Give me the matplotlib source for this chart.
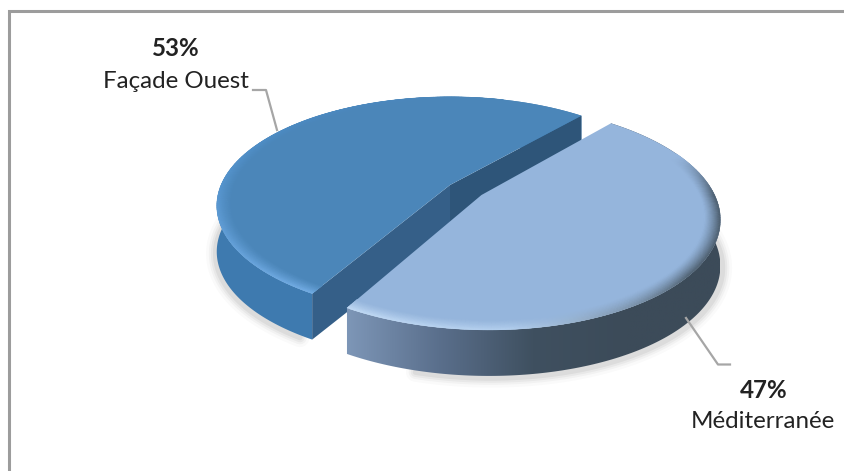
import numpy as np
import matplotlib
matplotlib.use("Agg")
import matplotlib.pyplot as plt
from matplotlib.collections import PolyCollection
from matplotlib.colors import to_rgb, LinearSegmentedColormap
from matplotlib.patches import Polygon

# ---- data ----
categories = ["Façade Ouest", "Méditerranée"]
shares = [53, 47]
pct_labels = [f"{v}%" for v in shares]

# ---- projection (tilted disc in perspective) ----
AX, AY, A, B, K = 450.0, 185.0, 229.0, 105.0, 0.19
START = 49.0
DEPTH = 46.0
EXPLODE = (0.135, -0.0935)


def project(X, Y):
    w = 1 + K * np.asarray(Y)
    return AX + A * np.asarray(X) / w, AY - B * np.asarray(Y) / w


def rim(t0, t1, off=(0, 0), r=1.0, n=200):
    t = np.radians(np.linspace(t0, t1, n))
    return project(off[0] + r * np.cos(t), off[1] + r * np.sin(t))


def lerp(c1, c2, t):
    c1, c2 = np.array(to_rgb(c1)), np.array(to_rgb(c2))
    return c1 + (c2 - c1) * np.clip(t, 0, 1)


def edge_interp(theta, stops):
    xs = [s[0] for s in stops]
    rgb = np.array([to_rgb(s[1]) for s in stops])
    return np.array([np.interp(theta, xs, rgb[:, i]) for i in range(3)])


fig = plt.figure(figsize=(8.45, 4.71), dpi=100, facecolor="white")
ax = fig.add_axes([0, 0, 1, 1])
ax.set_xlim(0, 845)
ax.set_ylim(471, 0)
ax.axis("off")

ax.plot([9, 9, 845], [471, 10.8, 10.8], color="#9c9c9c", lw=2.2, zorder=1,
        solid_joinstyle="miter")

span = [v / sum(shares) * 360 for v in shares]
d0, d1 = START, START + span[0]
l0, l1 = d1, d1 + span[1]


def bevel(t0, t1, off, top, stops, zorder, width=0.065):
    ts = np.linspace(t0, t1, 160)
    steps = 14
    rs = np.linspace(1 - width, 1.0, steps + 1)
    polys, cols = [], []
    for a, b in zip(ts[:-1], ts[1:]):
        edge = edge_interp((a + b) / 2, stops)
        for i, (r0, r1) in enumerate(zip(rs[:-1], rs[1:])):
            ta, tb = np.radians(a), np.radians(b)
            px = [off[0] + r0 * np.cos(ta), off[0] + r1 * np.cos(ta),
                  off[0] + r1 * np.cos(tb), off[0] + r0 * np.cos(tb)]
            py = [off[1] + r0 * np.sin(ta), off[1] + r1 * np.sin(ta),
                  off[1] + r1 * np.sin(tb), off[1] + r0 * np.sin(tb)]
            x, y = project(px, py)
            polys.append(np.column_stack([x, y]))
            f = ((i + 0.5) / steps) ** 1.3
            cols.append(lerp(top, edge, f))
    ax.add_collection(PolyCollection(polys, facecolors=cols, edgecolors=cols,
                                     linewidths=0.3, zorder=zorder))


# soft shadow under the bottom edge
for lw, al in zip([14, 10, 7, 4], [0.02, 0.03, 0.04, 0.05]):
    x, y = rim(d0 + 60, d1 - 3, (0, 0))
    ax.plot(x - 1, y + DEPTH + 2, color="black", lw=lw, alpha=al, zorder=2, solid_capstyle="round")
    x, y = rim(l0 + 15, l1 - 40, EXPLODE)
    ax.plot(x + 2, y + DEPTH + 2, color="black", lw=lw, alpha=al, zorder=2, solid_capstyle="round")

# ---- Façade Ouest ----
TOP_D = "#4b86b9"
x, y = rim(d0, d1)
ax.fill(np.r_[x, x[::-1]], np.r_[y, (y + DEPTH)[::-1]], color="#3e7aaf", lw=0, zorder=3)
cx, cy = project(0.0, 0.0)
face1 = [(cx, cy), (x[0], y[0]), (x[0], y[0] + DEPTH * 0.55), (cx, cy + DEPTH)]
face2 = [(cx, cy), (x[-1], y[-1]), (x[-1], y[-1] + DEPTH), (cx, cy + DEPTH)]
ax.add_patch(Polygon(face1, color="#2e5579", lw=0, zorder=4))
ax.add_patch(Polygon(face2, color="#355f88", lw=0, zorder=4))
ax.fill(np.r_[cx, x], np.r_[cy, y], color=TOP_D, lw=0, zorder=5)
bevel(d0 + 25, d1, (0, 0), TOP_D,
      [(80, TOP_D), (140, "#4b8ac2"), (180, "#5796d0"), (238, "#74aee6")], 6)

# ---- Méditerranée ----
TOP_L = "#95b5dc"
x, y = rim(l0, l1, EXPLODE)
verts = np.column_stack([np.r_[x, x[::-1]], np.r_[y, (y + DEPTH)[::-1]]])
cmap = LinearSegmentedColormap.from_list("side", ["#7e97b8", "#5a6f8c", "#3f5060", "#3c4b59", "#3c4b59"])
im = ax.imshow(np.linspace(0, 1, 256)[None, :], extent=(345, 720, 400, 120),
               cmap=cmap, aspect="auto", zorder=7)
clip = Polygon(verts, transform=ax.transData, fc="none", ec="none")
ax.add_patch(clip)
im.set_clip_path(clip)
ax.set_xlim(0, 845)
ax.set_ylim(471, 0)
lx, ly = project(EXPLODE[0], EXPLODE[1])
ax.fill(np.r_[lx, x], np.r_[ly, y], color=TOP_L, lw=0, zorder=8)
bevel(l0, l1 - 25, EXPLODE, TOP_L,
      [(238, "#c4dcf6"), (275, "#b3cfee"), (300, "#7f96ad"), (320, "#4e5f6e"),
       (360, "#4a5b6b"), (382, TOP_L)], 9)

# ---- leader lines ----
ax.plot([253, 266, 277], [90, 90, 130], color="#a6a6a6", lw=1.6, zorder=10)
ax.plot([686, 718, 730], [318, 364.5, 364.5], color="#a6a6a6", lw=1.6, zorder=10)

# ---- labels ----
tc = "#222222"
FS = 17.4
ax.text(176, 49, pct_labels[0], family="Lato", weight="bold", fontsize=FS, color=tc,
        ha="center", va="center", zorder=11)
ax.text(175.5, 82, categories[0], family="Lato", fontsize=FS, color=tc,
        ha="center", va="center", zorder=11)
ax.text(764, 390, pct_labels[1], family="Lato", weight="bold", fontsize=FS, color=tc,
        ha="center", va="center", zorder=11)
ax.text(763, 422, categories[1], family="Lato", fontsize=FS, color=tc,
        ha="center", va="center", zorder=11)

fig.savefig("out.png", dpi=100, facecolor="white")
